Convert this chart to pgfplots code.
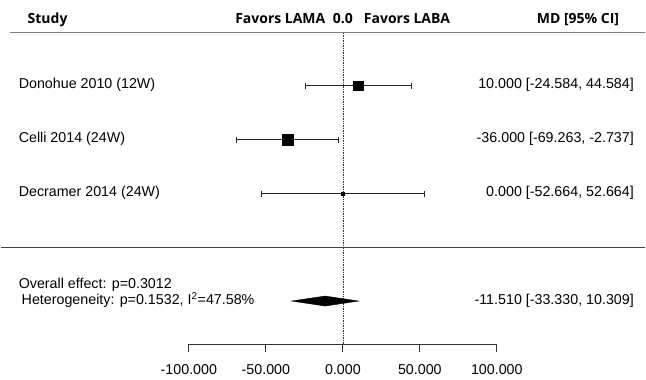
\documentclass[border=0pt]{standalone}
\usepackage{pgfplots}
\pgfplotsset{compat=1.18}
\usepackage{fontspec}
\setmainfont{Liberation Sans}
\newfontfamily\headfont{Open Sans}
\begin{document}
\begin{tikzpicture}
\begin{axis}[
  scale only axis, width=646pt, height=380pt,
  xmin=-222.29, xmax=196.37, ymin=0, ymax=380,
  y dir=reverse, hide axis, clip=false,
]
\path (rel axis cs:0,0) rectangle (rel axis cs:1,1);
% header
\addplot[gray, line width=1.6pt, forget plot] coordinates {(-216.4,32.5) (196.37,32.5)};
% separator
\addplot[black!75, line width=1.2pt, forget plot] coordinates {(-222.29,248) (196.37,248)};
% null line
\addplot[black!80, densely dotted, line width=0.7pt, forget plot] coordinates {(0,33) (0,345)};
% CIs
\addplot[black!85, line width=0.8pt, mark=|, mark size=3pt, mark options={solid, line width=0.8pt}] coordinates {(-24.584,86) (44.584,86)};
\addplot[black!85, line width=0.8pt, mark=|, mark size=3pt, mark options={solid, line width=0.8pt}] coordinates {(-69.263,140) (-2.737,140)};
\addplot[black!85, line width=0.8pt, mark=|, mark size=3pt, mark options={solid, line width=0.8pt}] coordinates {(-52.664,194) (52.664,194)};
% point estimates
\addplot[only marks, mark=square*, mark size=4.6pt, black] coordinates {(10,86)};
\addplot[only marks, mark=square*, mark size=5.4pt, black] coordinates {(-36,140)};
\addplot[only marks, mark=square*, mark size=1.4pt, black] coordinates {(0,194)};
% diamond
\addplot[fill=black, draw=black] coordinates {(-33.330,301.7) (-11.510,296.7) (10.309,301.7) (-11.510,306.7)} -- cycle;
% x axis
\addplot[black!80, line width=0.9pt, forget plot] coordinates {(-100,353) (-100,345.5) (-50,345.5) (-50,353) (-50,345.5) (0,345.5) (0,353) (0,345.5) (50,345.5) (50,353) (50,345.5) (100,345.5) (100,353)};
% texts
\begin{scope}[every node/.style={font=\fontsize{14.3}{16}\selectfont, inner sep=0pt}]
\node[anchor=mid west] at (axis cs:-210.6,86) {Donohue 2010 (12W)};
\node[anchor=mid west] at (axis cs:-210.6,140) {Celli 2014 (24W)};
\node[anchor=mid west] at (axis cs:-210.6,194) {Decramer 2014 (24W)};
\node[anchor=mid west] at (axis cs:-210.6,286) {Overall effect: p=0.3012};
\node[anchor=mid west] at (axis cs:-208.7,303) {Heterogeneity: p=0.1532, I\textsuperscript{2}=47.58\%};
\node[anchor=mid east] at (axis cs:189.1,86) {10.000 [-24.584, 44.584]};
\node[anchor=mid east] at (axis cs:189.1,140) {-36.000 [-69.263, -2.737]};
\node[anchor=mid east] at (axis cs:189.1,194) {0.000 [-52.664, 52.664]};
\node[anchor=mid east] at (axis cs:189.1,303) {-11.510 [-33.330, 10.309]};
\node at (axis cs:-100,370) {-100.000};
\node at (axis cs:-50,370) {-50.000};
\node at (axis cs:0,370) {0.000};
\node at (axis cs:50,370) {50.000};
\node at (axis cs:100,370) {100.000};
\end{scope}
\begin{scope}[every node/.style={font=\headfont\bfseries\fontsize{14}{16}\selectfont, inner sep=0pt}]
\node[anchor=mid west] at (axis cs:-204.8,20.5) {Study};
\node[anchor=mid east] at (axis cs:-11.3,20.5) {Favors LAMA};
\node[anchor=mid] at (axis cs:0,20.5) {0.0};
\node[anchor=mid west] at (axis cs:13.6,20.5) {Favors LABA};
\node[anchor=mid east] at (axis cs:179.5,20.5) {MD [95\% CI]};
\end{scope}
\end{axis}
\end{tikzpicture}
\end{document}
